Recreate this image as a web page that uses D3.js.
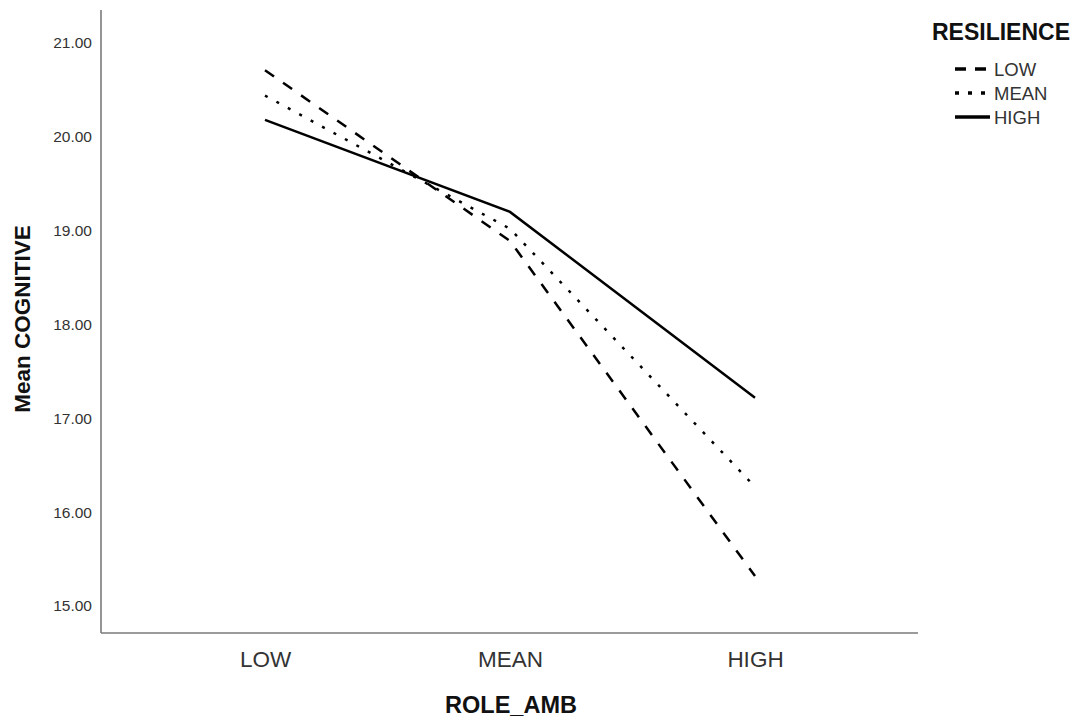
<!DOCTYPE html>
<html>
<head>
<meta charset="utf-8">
<script src="https://cdn.jsdelivr.net/npm/d3@7"></script>
<style>
  body { margin: 0; background: #fff; }
  svg { display: block; font-family: "Liberation Sans", Arial, sans-serif; }
</style>
</head>
<body>
<svg id="chart" width="1077" height="717"></svg>
<script>
const categories = ["LOW", "MEAN", "HIGH"];
const seriesNames = ["LOW", "MEAN", "HIGH"];
const lowValues = [20.71, 18.89, 15.32];
const meanValues = [20.44, 19.02, 16.27];
const highValues = [20.18, 19.20, 17.22];
const yTicks = [15, 16, 17, 18, 19, 20, 21];

const series = [
  { name: "LOW", values: lowValues, dash: "11,11" },
  { name: "MEAN", values: meanValues, dash: "3,10" },
  { name: "HIGH", values: highValues, dash: null }
];

const svg = d3.select("#chart");
const plotLeft = 101, plotRight = 918, plotTop = 10, plotBottom = 633;

const x = d3.scalePoint().domain(categories).range([265, 755]);
const y = d3.scaleLinear().domain([15, 21]).range([606, 43]);

// axes
svg.append("line").attr("x1", plotLeft).attr("x2", plotLeft).attr("y1", plotTop).attr("y2", plotBottom)
  .attr("stroke", "#7a7a7a").attr("stroke-width", 1.6);
svg.append("line").attr("x1", plotLeft).attr("x2", plotRight).attr("y1", plotBottom).attr("y2", plotBottom)
  .attr("stroke", "#7a7a7a").attr("stroke-width", 1.6);

const yAxis = d3.axisLeft(y).tickValues(yTicks).tickSize(0).tickPadding(9)
  .tickFormat(d3.format(".2f"));
const gy = svg.append("g").attr("transform", `translate(${plotLeft},0)`).call(yAxis);
gy.select(".domain").remove();
gy.selectAll("text").attr("font-size", 15.5).attr("fill", "#333")
  .attr("font-family", "'Liberation Sans', Arial, sans-serif");

const xAxis = d3.axisBottom(x).tickSize(0);
const gx = svg.append("g").attr("transform", `translate(0,${plotBottom})`).call(xAxis);
gx.select(".domain").remove();
gx.selectAll("text").attr("y", 34).attr("dy", null).attr("font-size", 22.5).attr("fill", "#333")
  .attr("font-family", "'Liberation Sans', Arial, sans-serif");

// titles
svg.append("text").attr("x", 511).attr("y", 713).attr("text-anchor", "middle")
  .attr("font-size", 23.5).attr("font-weight", "bold").attr("fill", "#111").text("ROLE_AMB");
svg.append("text").attr("transform", "translate(30,319) rotate(-90)").attr("text-anchor", "middle")
  .attr("font-size", 22.5).attr("font-weight", "bold").attr("fill", "#111").text("Mean COGNITIVE");

// lines
const line = d3.line().x((d, i) => x(categories[i])).y(d => y(d));
series.forEach(s => {
  svg.append("path").datum(s.values).attr("d", line)
    .attr("fill", "none").attr("stroke", "#000").attr("stroke-width", 2.5)
    .attr("stroke-dasharray", s.dash);
});

// legend
svg.append("text").attr("x", 932).attr("y", 40).attr("font-size", 23).attr("font-weight", "bold")
  .attr("fill", "#111").text("RESILIENCE");
series.forEach((s, i) => {
  const ly = 69 + i * 24;
  svg.append("line").attr("x1", 955).attr("x2", 990).attr("y1", ly).attr("y2", ly)
    .attr("stroke", "#000").attr("stroke-width", 3.5)
    .attr("stroke-dasharray", s.name === "LOW" ? "11,9" : (s.name === "MEAN" ? "4,9" : null));
  svg.append("text").attr("x", 994).attr("y", ly + 6.5).attr("font-size", 18.5).attr("fill", "#333")
    .text(seriesNames[i]);
});
</script>
</body>
</html>
